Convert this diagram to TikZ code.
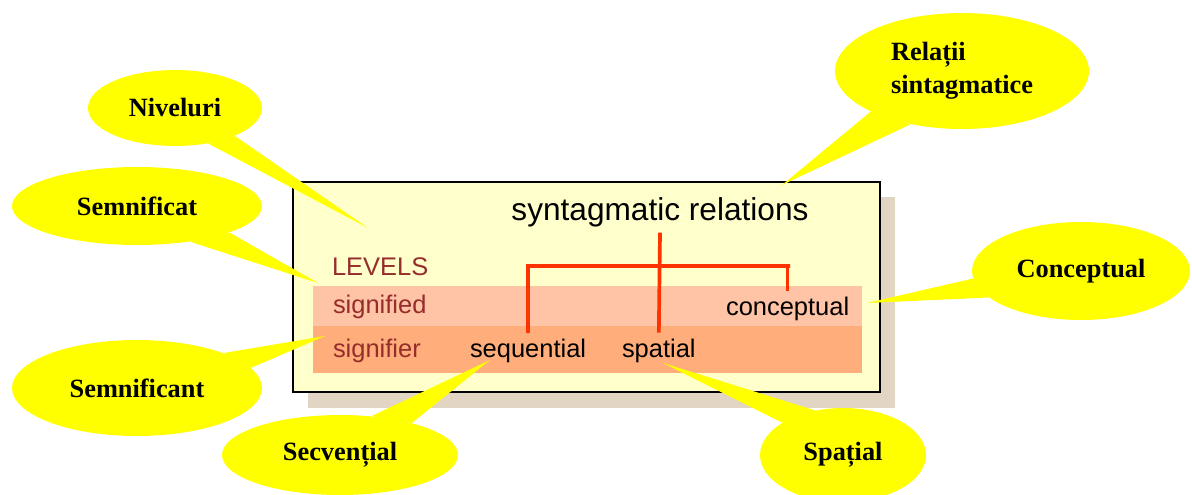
\documentclass[tikz,border=0pt]{standalone}
\usepackage{fontspec}
\setmainfont{Liberation Serif}
\newfontfamily\arialfont{Liberation Sans}
\usetikzlibrary{shapes.geometric,calc}
\definecolor{callout}{HTML}{FFFF00}
\definecolor{paper}{HTML}{FFFFCC}
\definecolor{panelshadow}{HTML}{E2D5C3}
\definecolor{sigband}{HTML}{FFC3A5}
\definecolor{sgrband}{HTML}{FFAD7A}
\definecolor{lvl}{HTML}{962D2D}
\definecolor{relred}{HTML}{FF3300}

\begin{document}
\begin{tikzpicture}[x=0.02cm, y=-0.02cm,
    bubble/.style={ellipse, fill=callout, inner sep=0pt,
      font=\fontsize{15}{18.5}\selectfont\bfseries},
    tail/.style={fill=callout},
    boxtext/.style={font=\arialfont\fontsize{14.5}{17}\selectfont,
      inner sep=0pt, outer xsep=0pt, outer ysep=3.4pt},
    lvltext/.style={boxtext, text=lvl},
    relline/.style={draw=relred, line width=2.1pt}]
  \useasboundingbox (0,0) rectangle (1192,494);

  % panel
  \fill[panelshadow] (308,197) rectangle (895,408);
  \filldraw[fill=paper, draw=black, line width=1.1pt] (293,182) rectangle (880,392);
  \fill[sigband] (313,286) rectangle (862,326);
  \fill[sgrband] (313,326) rectangle (862,373);

  \node[boxtext, font=\arialfont\fontsize{18}{21}\selectfont, anchor=base] (syn) at (660,220) {syntagmatic relations};
  \node[lvltext, anchor=base west] (levels) at (332,275) {LEVELS};
  \node[lvltext, anchor=base west] (sigd) at (333,313) {signified};
  \node[lvltext, anchor=base west] (sigr) at (333,357) {signifier};
  \node[boxtext, anchor=base west] (concept) at (726,315) {conceptual};
  \node[boxtext, anchor=base west] (seq) at (470,357) {sequential};
  \node[boxtext, anchor=base west] (spat) at (622,357) {spatial};

  \coordinate (fork) at (790,266);
  \draw[relline] (syn.south) -- (spat.north);
  \draw[relline] (seq.north) |- (fork) -| (concept.north);

  % callouts
  \node[bubble, minimum width=3.48cm, minimum height=1.52cm] (niv) at (175,108) {Niveluri};
  \node[bubble, minimum width=5cm, minimum height=1.56cm] (sfd) at (137,206) {Semnificat};
  \node[bubble, minimum width=5cm, minimum height=1.92cm] (sft) at (137,388) {Semnificant};
  \node[bubble, minimum width=5.08cm, minimum height=2.32cm, align=left] (rel) at (962,71) {Relații\\sintagmatice};
  \node[bubble, minimum width=4.36cm, minimum height=1.96cm] (con) at (1081,271) {Conceptual};
  \node[bubble, minimum width=4.72cm, minimum height=1.6cm] (sec) at (340,455) {Secvențial};
  \node[bubble, minimum width=3.32cm, minimum height=1.88cm] (spa) at (843,455) {Spațial};

  \coordinate (nivtip) at (368,228);
  \coordinate (sfdtip) at (318,283);
  \coordinate (sfttip) at (325,336);
  \coordinate (reltip) at (782,185);
  \coordinate (contip) at (867,303);
  \coordinate (sectip) at (490,360);
  \coordinate (spatip) at (663,363);

  \fill[tail] (niv.-25) -- (nivtip) -- (niv.-47) -- cycle;
  \fill[tail] (sfd.-16) -- (sfdtip) -- (sfd.-34) -- cycle;
  \fill[tail] (sft.22) -- (sfttip) -- (sft.10) -- cycle;
  \fill[tail] (rel.204) -- (reltip) -- (rel.226) -- cycle;
  \fill[tail] (con.184) -- (contip) -- (con.196) -- cycle;
  \fill[tail] (sec.51) -- (sectip) -- (sec.24) -- cycle;
  \fill[tail] (spa.152) -- (spatip) -- (spa.122) -- cycle;
\end{tikzpicture}
\end{document}
